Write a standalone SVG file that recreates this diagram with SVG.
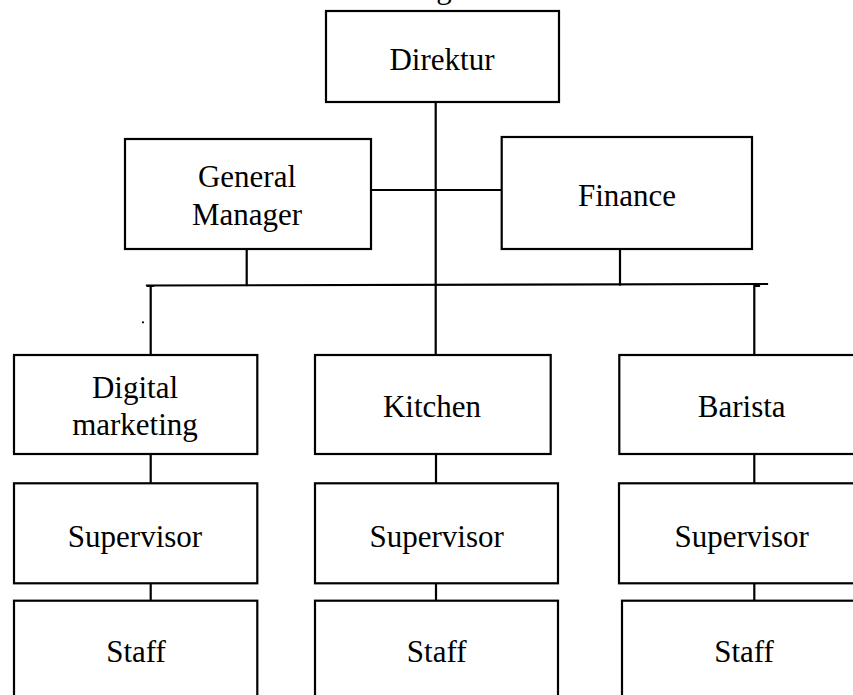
<svg xmlns="http://www.w3.org/2000/svg" width="853" height="695" viewBox="0 0 853 695">
  <style>
    .box { fill: #ffffff; stroke: #000000; stroke-width: 2.2; }
    .lbl { font-family: "Liberation Serif", "Times New Roman", serif; font-size: 31px; fill: #000000; text-anchor: middle; }
    .wire { stroke: #000000; stroke-width: 2.2; fill: none; stroke-linecap: square; }
  </style>
  <rect width="853" height="695" fill="#ffffff"/>

  <!-- heading, clipped by the top edge -->
  <text class="lbl" x="444" y="-2">g</text>

  <!-- connectors -->
  <g id="connectors">
    <!-- trunk from Direktur down to Kitchen -->
    <line class="wire" x1="435.7" y1="102" x2="435.7" y2="355"/>
    <!-- General Manager / Finance link -->
    <line class="wire" x1="371" y1="190" x2="501.7" y2="190"/>
    <!-- drops to the bus -->
    <line class="wire" x1="246.7" y1="249" x2="246.7" y2="285"/>
    <line class="wire" x1="620" y1="249" x2="620" y2="284.5"/>
    <!-- horizontal bus -->
    <line class="wire" x1="147" y1="285.5" x2="767" y2="284"/>
    <!-- branch drops -->
    <path class="wire" d="M148 286 H153 M150.7 286 V355"/>
    <path class="wire" d="M754.3 286 H759 M754.3 286 V355"/>
    <!-- column links -->
    <line class="wire" x1="150.7" y1="454" x2="150.7" y2="483"/>
    <line class="wire" x1="150.7" y1="583" x2="150.7" y2="600.7"/>
    <line class="wire" x1="436" y1="454" x2="436" y2="483"/>
    <line class="wire" x1="436" y1="583" x2="436" y2="600.7"/>
    <line class="wire" x1="754.3" y1="454" x2="754.3" y2="483"/>
    <line class="wire" x1="754.3" y1="583" x2="754.3" y2="600.7"/>
    <!-- stray mark -->
    <circle cx="143" cy="322.3" r="1.1" fill="#000000"/>
  </g>

  <g id="direktur">
    <rect class="box" x="326" y="11" width="233" height="91"/>
    <text class="lbl" x="442" y="70">Direktur</text>
  </g>

  <g id="general-manager">
    <rect class="box" x="125" y="139" width="246" height="110"/>
    <text class="lbl" x="247" y="187">General</text>
    <text class="lbl" x="247" y="225">Manager</text>
  </g>

  <g id="finance">
    <rect class="box" x="501.7" y="137" width="250.3" height="112"/>
    <text class="lbl" x="627" y="206">Finance</text>
  </g>

  <g id="digital-marketing">
    <rect class="box" x="14" y="355" width="243.3" height="99"/>
    <text class="lbl" x="135" y="398">Digital</text>
    <text class="lbl" x="135" y="435">marketing</text>
  </g>

  <g id="kitchen">
    <rect class="box" x="315" y="355" width="235.7" height="99"/>
    <text class="lbl" x="432" y="416.7">Kitchen</text>
  </g>

  <g id="barista">
    <rect class="box" x="619.3" y="355" width="300" height="99"/>
    <text class="lbl" x="741.7" y="416.7">Barista</text>
  </g>

  <g id="supervisor-1">
    <rect class="box" x="14" y="483.3" width="243.3" height="100"/>
    <text class="lbl" x="135" y="546.7">Supervisor</text>
  </g>

  <g id="supervisor-2">
    <rect class="box" x="315" y="483.3" width="243" height="100"/>
    <text class="lbl" x="436.7" y="546.7">Supervisor</text>
  </g>

  <g id="supervisor-3">
    <rect class="box" x="619" y="483.3" width="300" height="100"/>
    <text class="lbl" x="741.7" y="546.7">Supervisor</text>
  </g>

  <g id="staff-1">
    <rect class="box" x="14" y="600.7" width="243.3" height="150"/>
    <text class="lbl" x="136" y="661.7">Staff</text>
  </g>

  <g id="staff-2">
    <rect class="box" x="315" y="600.7" width="243" height="150"/>
    <text class="lbl" x="436.7" y="661.7">Staff</text>
  </g>

  <g id="staff-3">
    <rect class="box" x="622" y="600.7" width="300" height="150"/>
    <text class="lbl" x="744" y="661.7">Staff</text>
  </g>
</svg>
